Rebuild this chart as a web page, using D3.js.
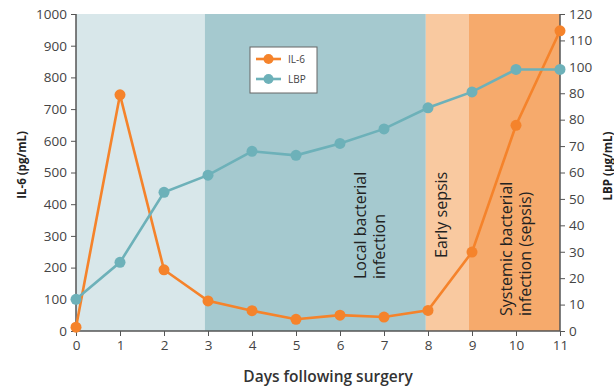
<!DOCTYPE html>
<html><head><meta charset="utf-8">
<script src="https://cdn.jsdelivr.net/npm/d3@7"></script>
<style>body{margin:0;background:#fff}svg{display:block}text{font-family:"Open Sans","Noto Sans",sans-serif}</style>
</head><body><svg id="c" width="614" height="389"></svg>
<script>
const days = [0,1,2,3,4,5,6,7,8,9,10,11];
const il6 = [12,745,193,95,64,37,50,44,65,249,649,947];
const lbp = [12,26,52.5,59,68,66.5,71,76.5,84.5,90.5,99,99];
const leftTicks = [0,100,200,300,400,500,600,700,800,900,1000];
const rightTicks = [0,10,20,30,40,50,60,70,80,90,100,110,120];
const rightTickLabels = ["0","10","20","30","40","50","60","70","80","80","100","110","120"];
const bandEdges = [0,2.93,7.95,8.93,11];
const bandColors = ["#d8e7ea","#a5c9cf","#f9c9a0","#f6aa6c"];
const bandLabels = [[],["Local bacterial","infection"],["Early sepsis"],["Systemic bacterial","infection (sepsis)"]];
const bandLabelPos = [null,[6.6,279],[8.43,258],[9.9,316]];
const series = [
  {name:"IL-6",values:il6,color:"#f5832b",axis:"left"},
  {name:"LBP",values:lbp,color:"#6db1b9",axis:"right"}
];

const svg = d3.select("#c");
const x = d3.scaleLinear().domain([0,11]).range([76,560]);
const yL = d3.scaleLinear().domain([0,1000]).range([331,14]);
const yR = d3.scaleLinear().domain([0,120]).range([331,14]);

// bands
bandColors.forEach((c,i)=>{
  svg.append("rect").attr("x",x(bandEdges[i])).attr("y",yL(1000)).attr("width",x(bandEdges[i+1])-x(bandEdges[i])).attr("height",yL(0)-yL(1000)).attr("fill",c);
  const a = bandLabelPos[i];
  if(a){
    const t = svg.append("text").attr("transform",`translate(${x(a[0])},${a[1]}) rotate(-90)`)
      .attr("font-size",16).attr("fill","#222");
    bandLabels[i].forEach((l,j)=>t.append("tspan").attr("x",0).attr("dy",j===0?0:19).text(l));
  }
});

// axes
const fmt = d3.format("d");
const axL = svg.append("g").attr("transform",`translate(${x(0)},0)`).call(d3.axisLeft(yL).tickValues(leftTicks).tickFormat(fmt).tickSize(5).tickPadding(4));
const axR = svg.append("g").attr("transform",`translate(${x(11)},0)`).call(d3.axisRight(yR).tickValues(rightTicks).tickFormat((d,i)=>rightTickLabels[i]).tickSize(5).tickPadding(4));
const axB = svg.append("g").attr("transform",`translate(0,${yL(0)})`).call(d3.axisBottom(x).tickValues(days).tickFormat(fmt).tickSize(5).tickPadding(4));
[axL,axR,axB].forEach(g=>{
  g.selectAll("path").attr("stroke","#555").attr("stroke-width",1.5);
  g.selectAll("line").attr("stroke","#555");
  g.selectAll("text").attr("font-size",13.5).attr("fill","#444").attr("font-family","'Open Sans','Noto Sans',sans-serif");
});
axL.select(".domain").attr("d",`M0,${yL(1000)}V${yL(0)}`);
axR.select(".domain").attr("d",`M0,${yR(120)}V${yR(0)}`);
axB.select(".domain").attr("d",`M${x(0)},0H${x(11)}`);

// series
series.forEach(s=>{
  const y = s.axis==="left"?yL:yR;
  const line = d3.line().x((d,i)=>x(days[i])).y(d=>y(d));
  svg.append("path").datum(s.values).attr("d",line).attr("fill","none").attr("stroke",s.color).attr("stroke-width",2.6);
  svg.selectAll(null).data(s.values).enter().append("circle").attr("cx",(d,i)=>x(days[i])).attr("cy",d=>y(d)).attr("r",5.5).attr("fill",s.color);
});

// legend
const lg = svg.append("g").attr("transform","translate(250,47)");
lg.append("rect").attr("width",67).attr("height",46).attr("fill","#fff").attr("stroke","#666").attr("stroke-width",1);
series.forEach((s,i)=>{
  const yy = 12+i*20;
  lg.append("line").attr("x1",6).attr("x2",31).attr("y1",yy).attr("y2",yy).attr("stroke",s.color).attr("stroke-width",2.6);
  lg.append("circle").attr("cx",18.5).attr("cy",yy).attr("r",5).attr("fill",s.color);
  lg.append("text").attr("x",38).attr("y",yy+3.5).attr("font-size",10).attr("fill","#444").text(s.name);
});

// axis titles
svg.append("text").attr("transform","translate(26,165) rotate(-90)").attr("text-anchor","middle").attr("font-size",11.5).attr("font-weight","bold").attr("fill","#222").text("IL-6 (pg/mL)");
svg.append("text").attr("transform","translate(612,166) rotate(-90)").attr("text-anchor","middle").attr("font-size",11.5).attr("font-weight","bold").attr("fill","#222").text("LBP (µg/mL)");
svg.append("text").attr("x",328).attr("y",382).attr("text-anchor","middle").attr("font-size",15.5).attr("font-weight","600").attr("fill","#333").text("Days following surgery");
</script></body></html>
